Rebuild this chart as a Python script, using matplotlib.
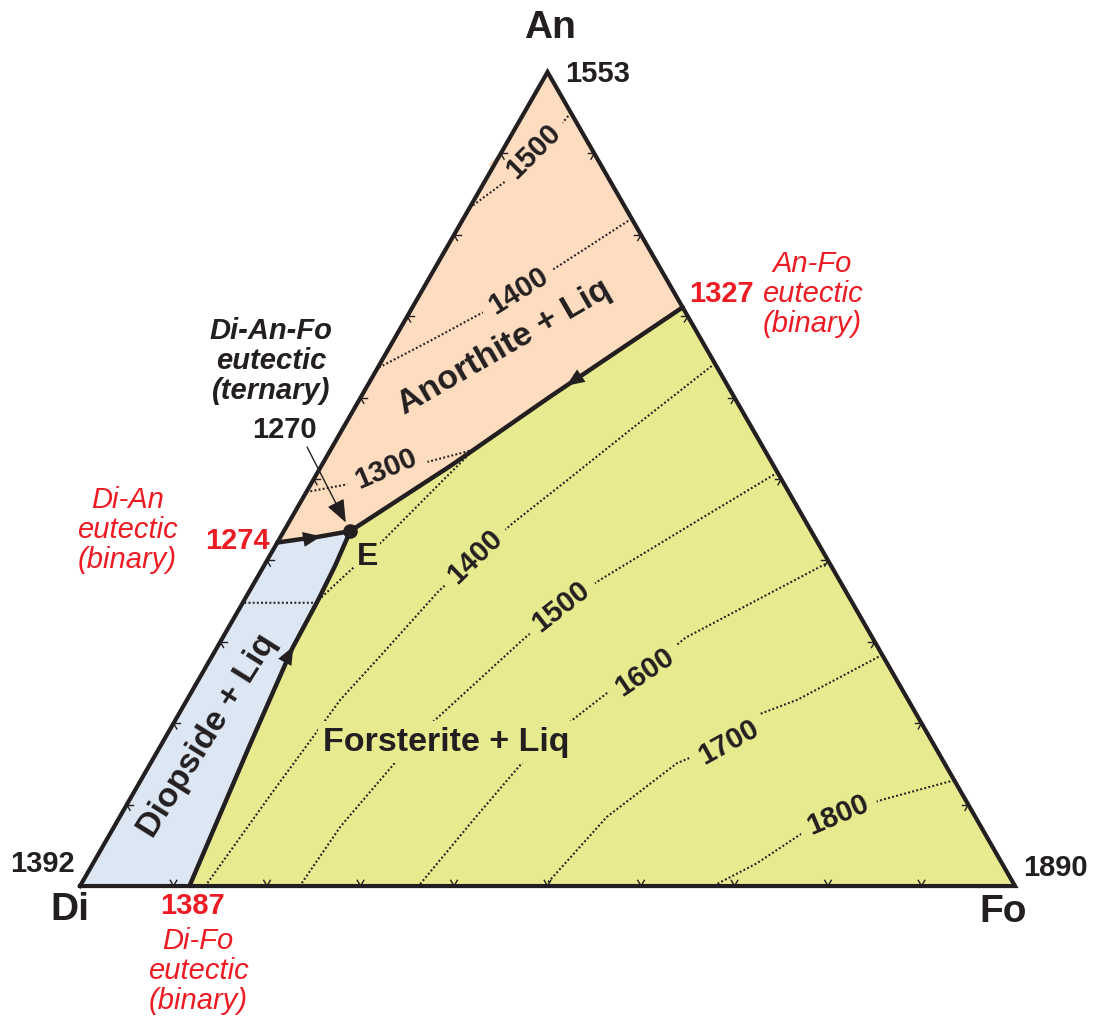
import matplotlib.pyplot as plt
import numpy as np
from matplotlib.patches import Polygon

plt.rcParams["font.family"] = "Liberation Sans"

INK = "#231F20"
RED = "#ED1C24"
AN_FILL = "#FDDCBF"
DI_FILL = "#DDE6F3"
FO_FILL = "#E7EA8F"

# Compositions are (An wt%, Fo wt%); Di is whatever is left.
DI_AN_EUTECTIC = (42.2, 0.0)
AN_FO_EUTECTIC = (71.1, 28.9)
DI_FO_EUTECTIC = (0.0, 11.7)
TERNARY_E = (43.6, 7.1)

MELT_DI, MELT_AN, MELT_FO = 1392, 1553, 1890
T_DI_AN, T_AN_FO, T_DI_FO, T_E = 1274, 1327, 1387, 1270

# cotectics, each running from its binary eutectic down to E
di_an_cotectic = [DI_AN_EUTECTIC, (42.6, 2.2), (42.9, 4.0), TERNARY_E]
an_fo_cotectic = [AN_FO_EUTECTIC, (60.1, 20.2), (51.6, 13.8), TERNARY_E]
di_fo_cotectic = [DI_FO_EUTECTIC, (17.3, 9.5), (29.2, 8.1), (35.1, 7.9),
                  (39.4, 7.6), TERNARY_E]

# liquidus isotherms
iso_an_1500 = [(95.0, 5.0), (93.2, 4.6), (90.2, 3.4), (86.4, 2.1), (83.3, 0.0)]
iso_an_1400 = [(82.0, 18.0), (76.3, 13.2), (73.1, 10.3), (70.8, 8.2),
               (67.1, 4.1), (63.6, 0.0)]
iso_1300 = [(48.4, 0.0), (49.3, 3.7), (51.2, 7.1), (52.1, 11.1), (53.6, 15.3),
            (50.4, 14.1), (42.5, 11.2), (37.6, 9.0), (34.8, 7.8), (34.8, 0.0)]
iso_fo_1400 = [(64.2, 35.8), (56.0, 30.8), (49.9, 27.2), (44.6, 24.0),
               (40.4, 22.0), (36.1, 20.2), (28.3, 18.0), (22.9, 16.4),
               (11.4, 14.8), (0.0, 13.4)]
iso_fo_1500 = [(50.8, 49.2), (45.1, 43.8), (37.6, 36.8), (34.3, 34.3),
               (30.2, 32.2), (19.8, 27.5), (15.1, 26.1), (7.3, 24.2), (0.0, 23.5)]
iso_fo_1600 = [(39.8, 60.2), (30.5, 49.5), (26.3, 47.2), (23.7, 44.5),
               (19.5, 41.9), (15.1, 39.7), (8.1, 38.0), (0.0, 36.2)]
iso_fo_1700 = [(28.4, 71.6), (22.9, 65.3), (21.0, 61.9), (17.7, 60.5),
               (15.1, 56.3), (8.5, 52.1), (0.0, 49.7)]
iso_fo_1800 = [(13.0, 87.0), (10.6, 80.5), (8.7, 76.7), (6.5, 74.0),
               (2.8, 71.0), (0.0, 67.7)]

isotherms = [iso_an_1500, iso_an_1400, iso_1300, iso_fo_1400, iso_fo_1500,
             iso_fo_1600, iso_fo_1700, iso_fo_1800]

# (text, composition, angle, field colour behind the text)
iso_labels = [
    ("1500", (90.2, 3.4), 45, AN_FILL),
    ("1400", (73.1, 10.3), 32, AN_FILL),
    ("1300", (51.2, 7.1), 23, AN_FILL),
    ("1400", (40.4, 22.0), 44, FO_FILL),
    ("1500", (34.3, 34.3), 38, FO_FILL),
    ("1600", (26.3, 47.2), 34, FO_FILL),
    ("1700", (17.7, 60.5), 29, FO_FILL),
    ("1800", (8.7, 76.7), 23, FO_FILL),
]

H = np.sqrt(3) / 2
DI, FO, AN = np.array([0.0, 0.0]), np.array([1.0, 0.0]), np.array([0.5, H])


def tern(points):
    a = np.atleast_2d(np.array(points, dtype=float)) / 100
    return np.column_stack([a[:, 1] + a[:, 0] / 2, a[:, 0] * H])


def xy(point):
    return tuple(tern([point])[0])


def arrow_along(ax, curve, frac):
    pts = tern(curve)
    seg = np.hypot(*np.diff(pts, axis=0).T)
    cum = np.concatenate([[0], np.cumsum(seg)])
    s = frac * cum[-1]
    i = min(max(np.searchsorted(cum, s) - 1, 0), len(seg) - 1)
    d = (pts[i + 1] - pts[i]) / seg[i]
    tip = pts[i] + (s - cum[i]) * d
    ax.annotate("", xy=tip, xytext=tip - 0.015 * d,
                arrowprops=dict(arrowstyle="-|>,head_length=0.65,head_width=0.27",
                                color=INK, lw=0, shrinkA=0, shrinkB=0,
                                mutation_scale=20), zorder=6)


fig = plt.figure(figsize=(10.93, 10.21), dpi=100)
ax = fig.add_axes([0, 0, 1, 1])
ax.set_xlim(-0.0856, 1.0834)
ax.set_ylim(-0.1436, 0.9427)
ax.axis("off")

# phase fields
an_field = [(100.0, 0.0)] + di_an_cotectic + an_fo_cotectic[::-1]
di_field = [(0.0, 0.0)] + di_fo_cotectic + di_an_cotectic[::-1]
fo_field = [(0.0, 100.0)] + an_fo_cotectic + di_fo_cotectic[::-1]
for pts, color in [(an_field, AN_FILL), (di_field, DI_FILL), (fo_field, FO_FILL)]:
    ax.add_patch(Polygon(tern(pts), closed=True, fc=color, ec="none", zorder=1))

for iso in isotherms:
    p = tern(iso)
    ax.plot(p[:, 0], p[:, 1], color=INK, lw=1.5, ls=(0, (0.9, 1.1)), zorder=2)

for text, comp, angle, fill in iso_labels:
    ax.text(*xy(comp), text, rotation=angle, rotation_mode="anchor",
            ha="center", va="center", fontsize=21, fontweight="bold", color=INK,
            bbox=dict(boxstyle="square,pad=0.3", fc=fill, ec="none"), zorder=3)

# edge ticks every 10 %
for p, q, r in [(DI, FO, AN), (DI, AN, FO), (FO, AN, DI)]:
    arms = [(r - p) / np.linalg.norm(r - p), (r - q) / np.linalg.norm(r - q)]
    for k in range(1, 10):
        base = p + (q - p) * k / 10
        for arm in arms:
            end = base + 0.007 * arm
            ax.plot([base[0], end[0]], [base[1], end[1]], color=INK, lw=1.0, zorder=3)

tri = np.array([DI, FO, AN, DI])
ax.plot(tri[:, 0], tri[:, 1], color=INK, lw=3.0, solid_joinstyle="miter", zorder=5)

for cot, frac in [(di_an_cotectic, 0.6), (an_fo_cotectic, 0.35), (di_fo_cotectic, 0.67)]:
    p = tern(cot)
    ax.plot(p[:, 0], p[:, 1], color=INK, lw=3.2, solid_capstyle="round", zorder=5)
    arrow_along(ax, cot, frac)

ax.plot(*xy(TERNARY_E), "o", ms=9.5, color=INK, zorder=7)

# field names
ax.text(0.4535, 0.5735, "Anorthite + Liq", rotation=30, ha="center", va="center",
        rotation_mode="anchor", fontsize=24.5, fontweight="bold", color=INK, zorder=4)
ax.text(0.3914, 0.1532, "Forsterite + Liq", ha="center", va="center", fontsize=24.5,
        fontweight="bold", color=INK, zorder=4,
        bbox=dict(boxstyle="square,pad=0.15", fc=FO_FILL, ec="none"))
ax.text(0.1369, 0.1596, "Diopside + Liq", rotation=58, ha="center", va="center",
        rotation_mode="anchor", fontsize=24.5, fontweight="bold", color=INK, zorder=4)
ax.text(0.307, 0.350, "E", ha="center", va="center", fontsize=23, fontweight="bold",
        color=INK, zorder=4, bbox=dict(boxstyle="square,pad=0.08", fc=FO_FILL, ec="none"))

# apices
big = dict(fontsize=28, fontweight="bold", color=INK, ha="center", va="center")
ax.text(0.5027, 0.9129, "An", **big)
ax.text(-0.0107, -0.0255, "Di", **big)
ax.text(0.9872, -0.0277, "Fo", **big)
num = dict(fontsize=21, fontweight="bold", color=INK, ha="center", va="center")
ax.text(0.554, 0.8639, str(MELT_AN), **num)
ax.text(-0.0406, 0.0234, str(MELT_DI), **num)
ax.text(1.0428, 0.0192, str(MELT_FO), **num)

# binary eutectics
red_num = dict(fontsize=21, fontweight="bold", color=RED, ha="center", va="center")
red_note = dict(fontsize=21, style="italic", color=RED, ha="center", va="center",
                linespacing=1.1)
ax.text(0.1679, 0.3671, str(T_DI_AN), **red_num)
ax.text(0.0503, 0.3788, "Di-An\neutectic\n(binary)", **red_note)
ax.text(0.6856, 0.6299, str(T_AN_FO), **red_num)
ax.text(0.7829, 0.6299, "An-Fo\neutectic\n(binary)", **red_note)
ax.text(0.1198, -0.0213, str(T_DI_FO), **red_num)
ax.text(0.1262, -0.0904, "Di-Fo\neutectic\n(binary)", **red_note)

# ternary eutectic
ax.text(0.2043, 0.5586, "Di-An-Fo\neutectic\n(ternary)", fontsize=21,
        fontweight="bold", style="italic", color=INK, ha="center", va="center",
        linespacing=1.1)
ax.text(0.2182, 0.4852, str(T_E), **num)
ax.annotate("", xy=xy(TERNARY_E), xytext=(0.2428, 0.4671),
            arrowprops=dict(arrowstyle="-|>,head_length=0.7,head_width=0.28",
                            color=INK, lw=1.0, shrinkA=0, shrinkB=7,
                            mutation_scale=20), zorder=6)

fig.savefig("out.png", dpi=100, facecolor="white")
